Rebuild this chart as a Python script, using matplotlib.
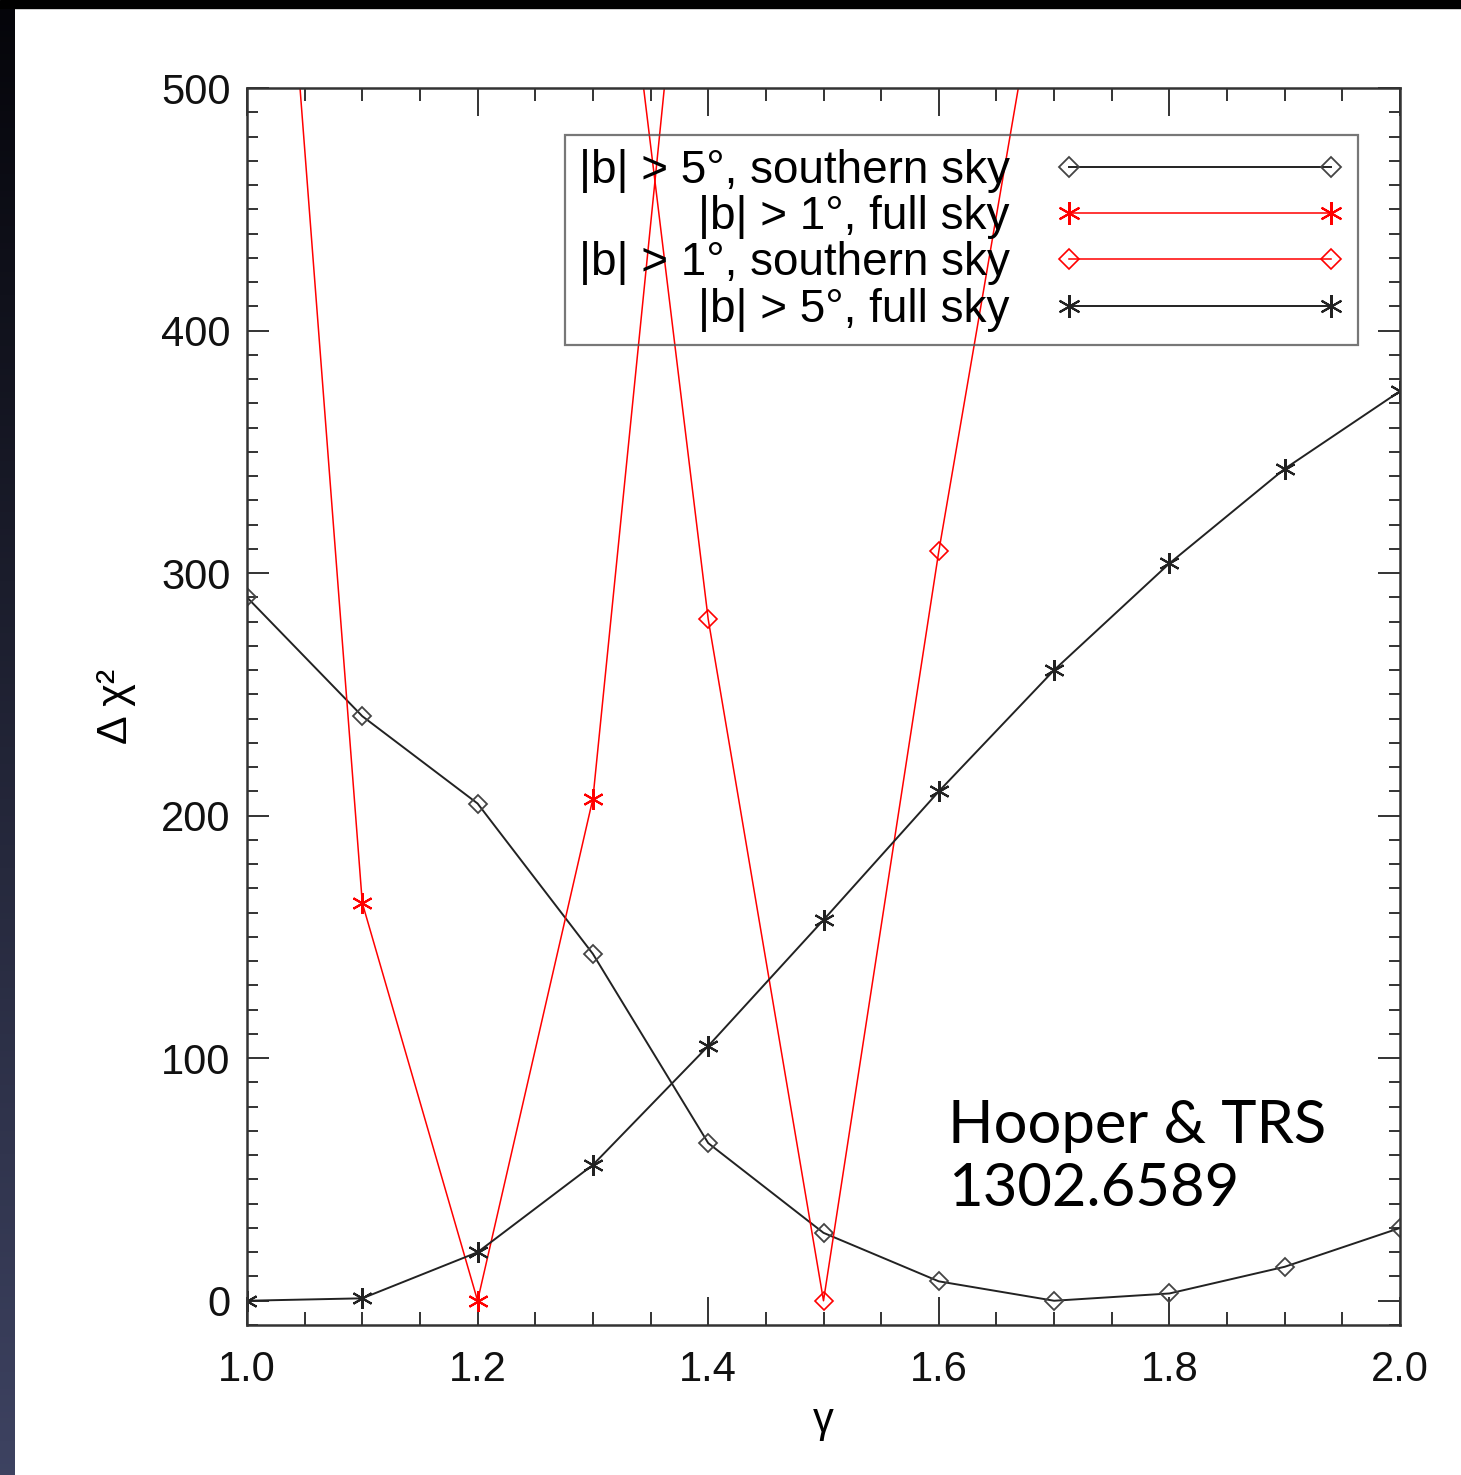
import numpy as np
import matplotlib
matplotlib.use('Agg')
import matplotlib.pyplot as plt
from matplotlib.patches import Rectangle
from matplotlib.ticker import MultipleLocator, FormatStrFormatter

plt.rcParams['font.family'] = ['Liberation Sans', 'DejaVu Sans']

# spectral slope scan and delta chi^2 for each region of the sky
gamma = [1.0, 1.1, 1.2, 1.3, 1.4, 1.5, 1.6, 1.7, 1.8, 1.9, 2.0]
south_b5 = [290, 241, 205, 143, 65, 28, 8, 0, 3, 14, 30]
full_b5 = [0, 1, 20, 56, 105, 157, 210, 260, 304, 343, 375]

gamma_full_b1 = [1.0, 1.1, 1.2, 1.3, 1.4]
full_b1 = [786, 164, 0, 207, 680]

gamma_south_b1 = [1.3, 1.4, 1.5, 1.6, 1.7]
south_b1 = [672, 281, 0, 309, 586]

labels = ['|b| > 5°, southern sky', '|b| > 1°, full sky',
          '|b| > 1°, southern sky', '|b| > 5°, full sky']

W, H = 1461, 1475
fig = plt.figure(figsize=(W / 100, H / 100), dpi=100, facecolor='white')

# dark slide border: thin black band on top, blue-ish gradient on the left
fig.patches.append(Rectangle((0, 1 - 8 / H), 1, 8 / H, transform=fig.transFigure,
                             color='black', zorder=-5))
strip = fig.add_axes([0, 0, 15 / W, 1 - 8 / H], zorder=-5)
top_c = np.array([0.02, 0.02, 0.04])
bot_c = np.array([0.24, 0.26, 0.38])
t = np.linspace(0, 1, 256)[:, None]
grad = (top_c * (1 - t) + bot_c * t)[:, None, :]
strip.imshow(grad, aspect='auto', extent=[0, 1, 0, 1])
strip.set_axis_off()

ax = fig.add_axes([247 / W, 150 / H, 1153 / W, 1237 / H])

ax.plot(gamma, south_b5, color='#222222', lw=1.4, marker='D', ms=9.5,
        mfc='none', mec='#444444', mew=1.3, label=labels[0])
ax.plot(gamma_full_b1, full_b1, color='red', lw=1.1, marker=(6, 2, 0), ms=15,
        mec='red', mew=1.5, label=labels[1])
ax.plot(gamma_south_b1, south_b1, color='red', lw=1.1, marker='D', ms=9.5,
        mfc='none', mec='red', mew=1.2, label=labels[2])
ax.plot(gamma, full_b5, color='#222222', lw=1.4, marker=(6, 2, 0), ms=15,
        mec='#222222', mew=1.5, label=labels[3])

ax.set_xlim(1.0, 2.0)
ax.set_ylim(-10, 500)

ax.xaxis.set_major_locator(MultipleLocator(0.2))
ax.xaxis.set_minor_locator(MultipleLocator(0.05))
ax.xaxis.set_major_formatter(FormatStrFormatter('%.1f'))
ax.yaxis.set_major_locator(MultipleLocator(100))
ax.yaxis.set_minor_locator(MultipleLocator(10))

ax.tick_params(which='both', direction='in', top=True, right=True,
               color='#333333', width=1.4, labelsize=30, labelcolor='#111111')
ax.tick_params(axis='x', which='major', length=20, pad=18)
ax.tick_params(axis='x', which='minor', length=9.5)
ax.tick_params(axis='y', which='major', length=16, pad=12)
ax.tick_params(axis='y', which='minor', length=8)
for sp in ax.spines.values():
    sp.set_linewidth(1.8)
    sp.set_color('#333333')

ax.set_xlabel('γ', fontsize=30, labelpad=8)
ax.set_ylabel('Δ χ²', fontsize=31, labelpad=18)

leg = ax.legend(loc='upper right', bbox_to_anchor=(0.9636, 0.962),
                borderaxespad=0, markerfirst=False, numpoints=2,
                markerscale=1.1, fontsize=33, labelspacing=0.05,
                handlelength=6.3, handletextpad=1.0, borderpad=0.3,
                fancybox=False, frameon=True)
leg.get_frame().set_facecolor('none')
leg.get_frame().set_edgecolor('#555555')
leg.get_frame().set_linewidth(1.6)

ax.text(1.608, 39, 'Hooper & TRS\n1302.6589', fontsize=43,
        family=['Lato', 'DejaVu Sans'], ha='left', va='baseline',
        linespacing=1.2, color='black')

fig.savefig('out.png', dpi=100, facecolor=fig.get_facecolor())
